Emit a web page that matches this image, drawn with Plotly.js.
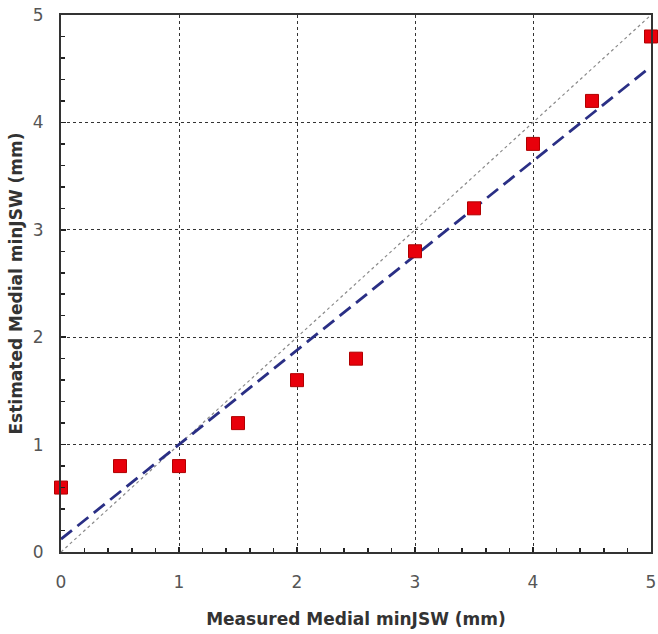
<!DOCTYPE html>
<html><head><meta charset="utf-8">
<script src="https://cdn.plot.ly/plotly-3.0.1.min.js"></script>
<style>html,body{margin:0;padding:0;background:#fff}#chart{width:658px;height:634px}</style>
</head><body><div id="chart"></div>
<script>
const measured = [0, 0.5, 1, 1.5, 2, 2.5, 3, 3.5, 4, 4.5, 5];
const estimated = [0.6, 0.8, 0.8, 1.2, 1.6, 1.8, 2.8, 3.2, 3.8, 4.2, 4.8];
const fitX = [0, 5];
const fitY = [0.12, 4.52];
const identityX = [0, 5];
const identityY = [0, 5];
const tickVals = [0, 1, 2, 3, 4, 5];
const tickText = ['0', '1', '2', '3', '4', '5'];

const traces = [
  {x: identityX, y: identityY, mode: 'lines', type: 'scatter',
   line: {color: '#8a8a8a', width: 1.2, dash: 'dot'}, hoverinfo: 'skip'},
  {x: fitX, y: fitY, mode: 'lines', type: 'scatter',
   line: {color: '#2a2f85', width: 2.8, dash: '14px,7px'}, hoverinfo: 'skip'},
  {x: measured, y: estimated, mode: 'markers', type: 'scatter',
   marker: {symbol: 'square', size: 13, color: '#e8000b', line: {color: '#b00000', width: 1}},
   cliponaxis: false}
];

const titleFont = {family: 'DejaVu Sans, sans-serif', size: 17, color: '#333'};
const axisCommon = {
  range: [0, 5], tickvals: tickVals, ticktext: tickText,
  showgrid: true, gridcolor: '#333', griddash: 'dot', gridwidth: 1,
  zeroline: false, showline: true, linecolor: '#333', linewidth: 2, mirror: true,
  ticks: 'inside', ticklen: 5, tickwidth: 1.5, tickcolor: '#222',
  minor: {dtick: 0.2, ticks: 'inside', ticklen: 4, tickwidth: 1.5, tickcolor: '#222', showgrid: false},
  ticklabeloverflow: 'allow',
  tickfont: {family: 'DejaVu Sans, sans-serif', size: 17, color: '#555'}
};

const layout = {
  width: 658, height: 634,
  margin: {l: 61, r: 7, t: 15, b: 82},
  paper_bgcolor: '#fff', plot_bgcolor: '#fff',
  showlegend: false,
  xaxis: Object.assign({}, axisCommon, {
    ticklabelstandoff: 14,
    title: {text: '<b>Measured Medial minJSW (mm)</b>', standoff: 22, font: titleFont}
  }),
  yaxis: Object.assign({}, axisCommon, {
    ticklabelstandoff: 12,
    title: {text: '<b>Estimated Medial minJSW (mm)</b>', standoff: 6, font: titleFont}
  })
};

Plotly.newPlot('chart', traces, layout, {displayModeBar: false, staticPlot: true});
</script>
</body></html>
